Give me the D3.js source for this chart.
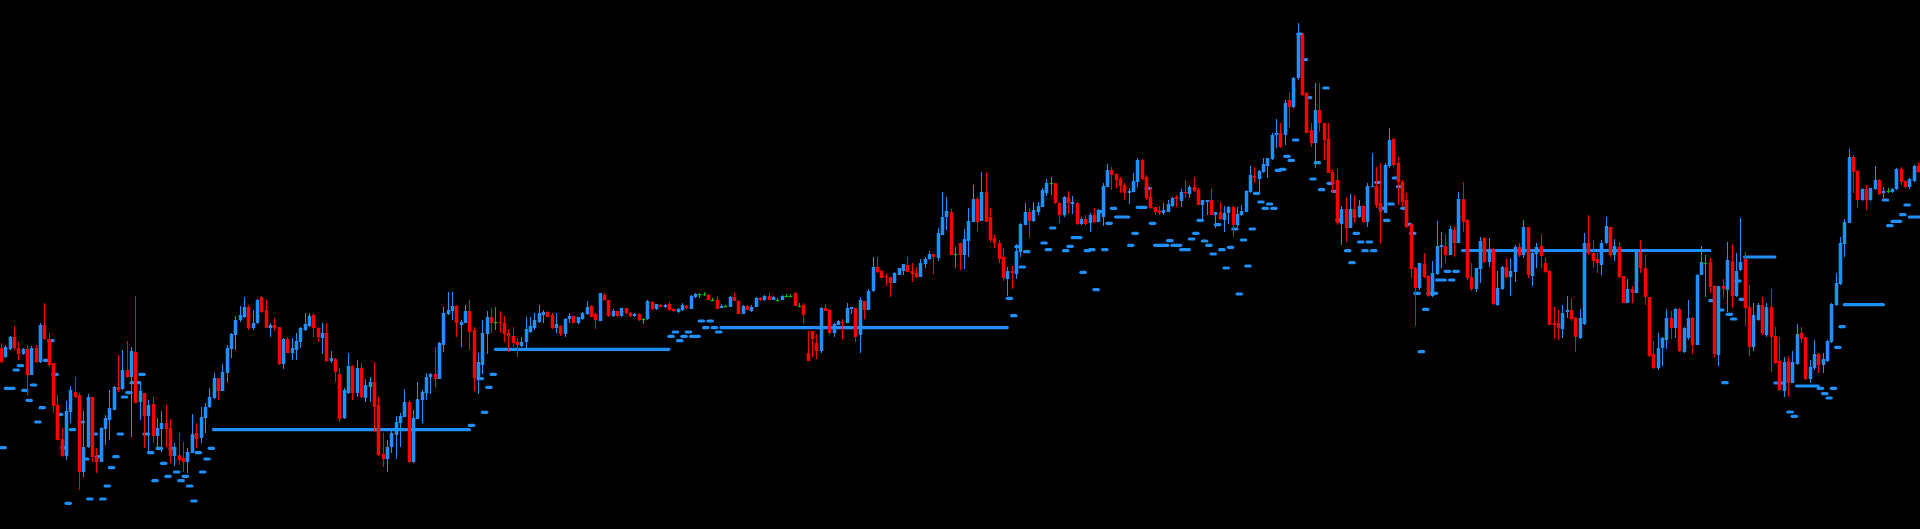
<!DOCTYPE html>
<html><head><meta charset="utf-8">
<script src="https://cdn.jsdelivr.net/npm/d3@7"></script>
<style>html,body{margin:0;padding:0;background:#000;overflow:hidden}svg{display:block}</style>
</head><body><svg id="chart" width="1920" height="529"></svg>
<script>
const opens = [
182,173,181,193,182,176,181,155,182,168,
205,191,167,125,91,74,118,138,135,58,
83,133,73,68,101,110,120,143,141,160,
153,178,128,137,114,126,94,101,107,102,
74,75,72,68,77,97,92,112,123,132,
152,139,157,181,195,210,213,223,202,207,
233,220,202,205,203,166,191,177,180,188,
200,204,215,202,
192,197,169,171,156,112,
137,164,137,162,132,143,148,125,76,71,
83,95,107,113,128,68,111,130,137,153,
156,151,185,216,219,224,205,207,219,200,
151,165,196,213,208,208,207,197,194,188,
184,188,198,202,208,215,218,215,202,204,
196,211,214,207,211,216,224,216,209,235,
230,214,219,214,222,217,214,216,
211,211,
228,221,225,223,226,221,218,220,224,221,
233,236,236,235,230,230,222,224,223,233,
229,216,224,219,223,232,230,234,230,230,
230,234,234,237,224,225,177,199,187,179,
222,220,197,205,208,207,221,222,195,229,
220,239,263,259,254,253,247,255,259,265,
259,257,253,266,271,276,272,295,313,318,
276,287,
275,289,308,331,309,338,313,292,
287,273,251,259,256,278,305,318,309,318,
323,337,347,347,327,315,333,326,327,306,
311,307,315,308,313,343,360,356,351,345,
337,338,348,370,353,333,323,319,317,318,
324,333,329,338,336,343,340,325,328,330,
315,318,310,317,323,305,315,318,338,354,
351,358,364,371,395,397,
395,430,423,452,
495,437,400,387,420,407,391,358,350,306,
321,302,321,313,324,308,343,344,327,317,
364,391,367,348,330,306,262,242,266,254,
234,256,283,284,275,300,287,331,310,253,
241,261,292,268,281,225,241,263,253,258,
283,275,303,254,276,284,267,259,207,207,
201,218,220,212,192,206,287,277,271,
265,
287,303,275,283,254,227,241,237,278,262,
233,176,162,182,190,212,202,221,178,192,
212,185,255,267,268,244,175,244,240,269,
234,260,271,223,183,210,225,195,223,194,
169,139,169,147,166,197,193,151,162,176,
165,169,188,225,246,286,307,373,359,330,
341,330,341,350,337,339,338,341,361,349,
343,349,364
];
const highs = [
187,185,194,204,188,182,185,184,185,207,
227,197,167,135,102,129,144,153,137,119,
136,133,82,103,115,140,144,175,180,189,
183,234,147,137,130,133,112,119,125,111,
87,97,88,82,116,107,123,127,142,157,
152,166,185,197,214,224,233,225,220,231,
234,230,207,212,203,192,193,192,197,203,
217,217,217,203,
207,207,179,172,162,142,
177,165,170,167,151,153,168,133,97,90,
100,114,117,141,130,120,148,140,157,157,
183,188,223,238,238,225,210,225,230,203,
177,210,219,222,223,219,214,201,203,192,
193,213,213,217,225,220,219,217,217,205,
212,217,214,213,218,229,225,217,237,237,
230,221,219,222,222,218,217,217,
212,230,
229,226,226,226,228,222,222,227,225,235,
237,237,238,236,232,234,226,225,234,237,
230,225,225,225,233,233,235,237,234,232,
235,236,236,238,227,227,199,199,196,223,
226,221,207,210,211,227,223,222,233,229,
241,273,273,260,256,253,258,262,266,273,
267,263,271,273,279,276,302,338,333,321,
283,287,
301,322,345,333,358,357,322,295,
290,282,263,264,286,307,327,322,328,328,
342,351,353,347,328,334,339,334,328,313,
315,317,322,321,347,366,363,357,353,347,
342,357,372,371,355,342,323,324,327,330,
333,335,341,350,345,353,342,330,330,341,
318,328,324,324,324,323,325,340,364,363,
360,372,372,397,411,407,
430,438,453,507,
497,438,407,447,447,407,407,360,361,324,
333,336,335,330,325,347,377,363,367,367,
402,392,373,350,337,307,263,267,277,255,
269,309,298,296,304,303,338,348,311,267,
262,293,293,292,282,259,264,271,272,285,
287,310,303,278,287,296,273,260,223,220,
225,234,232,213,221,297,315,290,277,
290,
313,303,291,288,254,251,244,280,290,275,
233,189,197,193,221,219,222,222,203,230,
213,256,284,275,272,245,244,251,288,285,
277,312,278,245,227,227,233,227,241,203,
193,173,173,179,206,203,193,170,190,177,
177,190,227,257,293,311,381,375,360,342,
345,342,364,351,343,342,342,362,363,350,
352,365,367
];
const lows = [
167,172,180,180,170,175,135,155,167,167,
190,163,117,90,73,70,107,132,40,53,
82,68,57,68,85,90,120,138,140,152,
93,127,110,82,78,87,83,78,83,67,
64,65,58,57,77,82,87,97,122,131,
130,139,148,172,180,208,212,200,200,206,
217,202,193,200,165,161,177,170,170,182,
199,203,193,188,
176,168,167,148,108,111,
136,130,133,132,128,128,98,74,63,58,
77,71,83,113,67,67,111,107,130,136,
143,151,178,215,210,193,183,207,180,139,
136,156,176,197,200,197,188,178,183,173,
183,182,197,200,207,207,213,201,197,194,
193,207,207,206,210,215,213,201,209,229,
213,213,213,213,216,213,213,209,
206,210,
220,220,223,222,220,218,217,219,221,221,
232,232,234,230,229,221,222,223,223,229,
216,216,220,218,223,229,229,230,230,229,
230,233,233,224,223,207,169,173,171,177,
219,196,193,205,191,207,216,188,177,211,
220,238,257,252,244,233,247,255,255,258,
248,252,253,262,270,256,269,295,300,275,
262,260,
261,273,308,299,309,308,288,282,
267,249,234,241,251,273,305,292,308,315,
323,334,335,326,307,313,316,316,305,305,
305,298,307,308,304,343,340,342,337,330,
326,338,343,350,330,321,315,315,315,318,
323,323,323,332,332,338,325,310,315,315,
302,310,298,306,293,303,314,318,337,347,
338,357,352,370,382,382,
385,402,422,450,
434,397,383,362,398,370,357,337,305,285,
288,302,307,312,307,303,343,322,287,317,
362,363,325,323,302,252,204,240,252,233,
233,255,262,267,275,273,287,298,250,239,
238,247,267,263,225,224,240,252,234,248,
273,272,252,244,262,262,257,205,192,190,
192,212,209,178,191,205,275,262,257,
255,
286,273,269,252,227,227,227,237,257,225,
173,161,160,164,181,191,192,178,177,190,
176,185,255,233,237,173,164,232,218,223,
233,259,204,174,179,209,195,193,158,166,
139,133,133,147,165,187,150,147,160,157,
157,168,187,224,245,273,307,337,322,329,
320,329,340,335,332,337,337,340,345,342,
341,348,357
];
const closes = [
168,183,193,182,176,181,155,182,168,205,
191,165,124,90,74,119,140,133,58,83,
133,73,68,102,112,122,143,140,160,153,
179,127,139,114,125,94,102,107,101,74,
83,70,68,78,96,91,113,123,133,152,
139,158,182,196,210,215,223,202,207,230,
218,202,205,202,166,191,177,182,189,202,
206,214,202,193,
197,169,172,158,111,140,
164,137,162,133,145,148,123,75,71,83,
97,108,114,128,68,112,131,138,153,156,
151,187,217,220,224,207,208,219,198,152,
168,197,213,207,208,207,196,194,187,185,
188,201,204,210,217,218,213,202,206,196,
211,214,207,213,217,223,213,210,237,230,
214,219,214,222,217,214,216,210,
211,229,
221,226,223,225,220,219,221,225,222,234,
236,236,236,230,230,221,224,224,233,229,
216,224,220,223,232,230,234,230,233,230,
234,234,234,224,224,215,169,191,179,222,
219,197,206,209,207,222,223,193,230,220,
239,263,258,252,253,247,257,262,266,258,
256,253,267,271,276,273,297,313,319,275,
276,275,
291,309,331,308,338,308,290,287,
271,252,259,257,279,306,318,309,320,324,
340,347,347,327,315,333,327,328,306,311,
306,315,308,320,344,360,355,350,344,337,
339,349,370,351,332,322,318,317,320,326,
332,331,338,337,343,339,325,330,330,315,
318,311,317,323,305,316,319,339,355,352,
359,366,372,395,397,383,
427,423,452,496,
435,397,387,420,407,390,357,347,307,321,
302,321,312,324,308,344,344,325,318,365,
390,365,348,328,303,261,242,267,253,234,
257,284,285,275,301,287,331,308,252,241,
262,289,268,280,226,242,263,253,259,283,
275,303,255,277,283,274,258,205,205,202,
217,220,211,193,212,287,277,269,267,
287,
304,275,284,253,227,241,237,278,262,233,
174,162,182,192,212,202,221,179,202,212,
185,255,268,267,243,176,244,241,270,234,
259,268,222,183,215,225,197,223,193,167,
140,168,147,168,196,191,151,163,176,165,
171,189,226,247,287,308,373,358,330,341,
330,342,350,336,339,339,341,361,348,343,
351,364,358
];
// indicator level: [first candle index, value] held until the next step (null = no level)
const levelSteps = [
[0,82.3],[1,141.7],[3,160],[4,164.3],[5,139.7],[6,129.7],[7,145],[8,108],[9,122.3],[10,169.7],
[11,189.3],[12,155.7],[13,115.7],[14,82.3],[15,26.7],[16,100.3],[17,null],[18,108],[19,71],[20,31],
[21,96],[22,73.3],[23,31],[24,44],[25,62.3],[26,73.3],[27,96],[28,133],[29,137.3],[30,147.3],
[32,155.7],[33,96],[34,77.3],[35,49.3],[36,81.7],[37,66.7],[38,53.7],[39,81.7],[40,58],[41,49.3],
[42,53.7],[43,44],[44,29],[45,77.3],[46,58],[47,71],[48,81.7],[49,100.3],[108,104.7],[109,null],
[110,151.3],[111,117.7],[112,142.7],[113,155.7],[114,180.7],[154,193.7],[155,198],[156,189.3],[157,193.7],[158,198],
[159,193.7],[161,209],[162,202.3],[163,209],[164,202.3],[165,198],[166,202.3],[232,231.7],[233,214.3],[234,283.3],
[235,263],[236,278.3],[237,null],[240,287],[241,280.3],[242,302],[243,null],[245,279.3],[246,283.7],[247,292.3],
[249,257.7],[250,279.3],[251,280.3],[252,240.3],[253,318.3],[254,280.3],[255,306.7],[256,321.7],[257,313],[260,284.7],
[261,296.7],[262,322.7],[264,341.7],[265,306.7],[266,284.7],[269,289.3],[270,284.7],[272,280.3],[274,291],[275,296.7],
[276,309.7],[277,289],[278,284.7],[279,276],[280,305.3],[281,280.3],[282,262],[283,282.7],[284,301],[285,236],
[286,290],[287,264],[288,301],[289,336.7],[290,328],[291,321.7],[292,326],[293,321.7],[294,359.7],[295,360.7],
[296,373.7],[297,369.7],[298,390],[299,496],[300,470.3],[301,432.3],[302,351],[303,367.3],[304,340.3],[305,442],
[306,346.7],[307,338.7],[308,310],[309,null],[310,279.3],[311,267.3],[312,296.7],[313,288],[314,279.3],[315,288],
[316,279.3],[317,347.7],[318,321.7],[319,309.7],[320,326],[321,352],[322,343.3],[323,321.7],[324,305.7],[325,296.7],
[326,236.7],[327,178.3],[328,220.7],[329,236.7],[331,250],[333,258.7],[334,250],[335,258.7],[336,null],[337,279.5],
[394,229.3],[395,null],[396,220],[397,147.3],[398,215.7],[399,211],[400,249],[401,230.7],[402,273],[409,147],
[411,null],[412,118],[413,113.7],[414,144],[419,141.7],[420,136.3],[421,132],[422,141.7],[423,182.7],[424,203.3],
[425,225.3],[434,330],[435,304.3],[436,308.7],[438,315.3],[439,325],[440,313]
];
const colors = {up: "#1e90ff", down: "#ff0000", flat: "#00c400", level: "#1e90ff", bg: "#000000"};

const W = 1920, H = 529;
const n = closes.length;
const svg = d3.select("#chart");
svg.append("rect").attr("width", W).attr("height", H).attr("fill", colors.bg);

const x = d3.scaleLinear().domain([0, n - 1]).range([1, 1918]);
const y = d3.scaleLinear().domain([0, 530]).range([530, 0]);

// expand steps to per-candle levels
const levels = new Array(n).fill(null);
levelSteps.forEach(([s, v], k) => {
  const e = k + 1 < levelSteps.length ? levelSteps[k + 1][0] : n;
  for (let i = s; i < e; i++) levels[i] = v;
});
// runs of equal level
const runs = [];
let cur = null;
levels.forEach((v, i) => {
  if (v === null) { cur = null; return; }
  if (cur && cur.v === v) { cur.e = i; }
  else { cur = {s: i, e: i, v: v}; runs.push(cur); }
});

svg.append("g").attr("class", "levels")
  .selectAll("line").data(runs).join("line")
  .attr("x1", d => x(d.s)).attr("x2", d => x(d.e + 1))
  .attr("y1", d => y(d.v)).attr("y2", d => y(d.v))
  .attr("stroke", colors.level).attr("stroke-width", 3.2)
  .attr("stroke-linecap", "round");

const candles = d3.range(n).map(i => ({i, o: opens[i], h: highs[i], l: lows[i], c: closes[i]}));
const col = d => d.c > d.o ? colors.up : (d.c < d.o ? colors.down : colors.flat);

const g = svg.append("g").attr("class", "candles");
g.selectAll("line.wick").data(candles).join("line").attr("class", "wick")
  .attr("shape-rendering", "crispEdges")
  .attr("x1", d => Math.round(x(d.i)) + 0.5).attr("x2", d => Math.round(x(d.i)) + 0.5)
  .attr("y1", d => y(Math.max(d.h, d.o, d.c))).attr("y2", d => y(Math.min(d.l, d.o, d.c)))
  .attr("stroke", col).attr("stroke-width", 1);
g.selectAll("rect.body").data(candles).join("rect").attr("class", "body")
  .attr("x", d => Math.round(x(d.i)) + 0.5 - 1.75)
  .attr("width", 3.5)
  .attr("y", d => y(Math.max(d.o, d.c)))
  .attr("height", d => Math.max(1.2, Math.abs(y(d.o) - y(d.c))))
  .attr("fill", col);
</script>
</body></html>
